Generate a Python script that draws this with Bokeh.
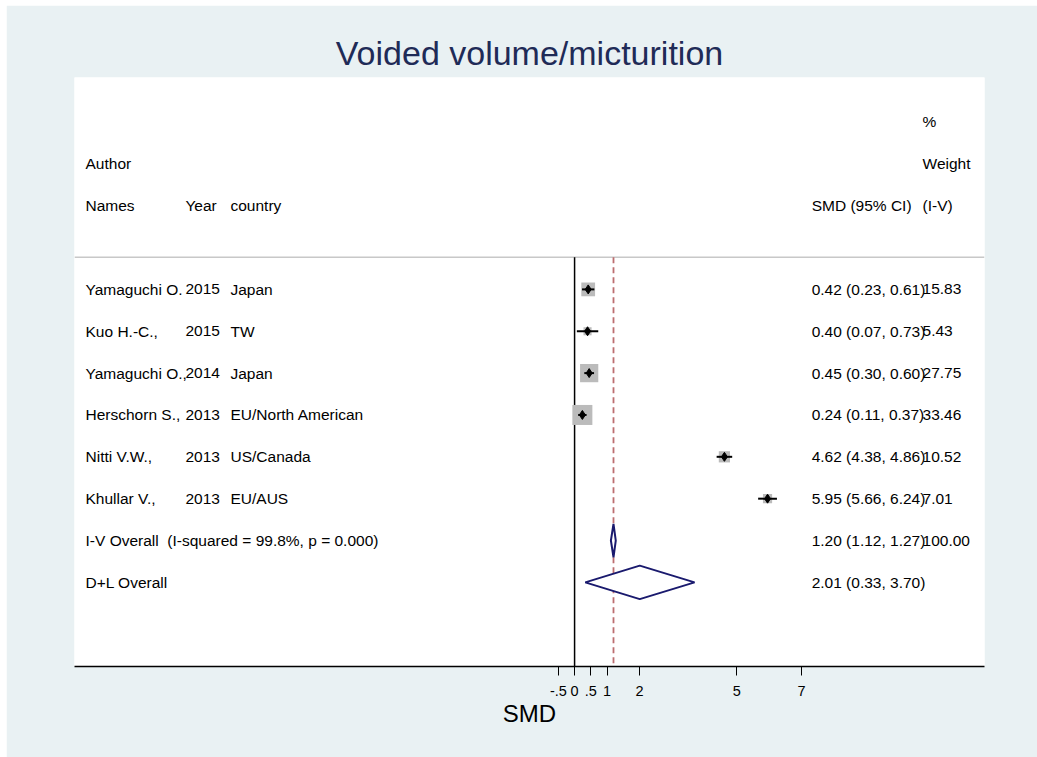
import numpy as np
from bokeh.plotting import figure
from bokeh.models import Range1d, FixedTicker, ColumnDataSource
from bokeh.core.properties import value
from bokeh.embed import file_html
from bokeh.resources import INLINE

# ---- study data -------------------------------------------------------
authors = ["Yamaguchi O.", "Kuo H.-C.,", "Yamaguchi O.,", "Herschorn S.,", "Nitti V.W.,", "Khullar V.,"]
years = ["2015", "2015", "2014", "2013", "2013", "2013"]
countries = ["Japan", "TW", "Japan", "EU/North American", "US/Canada", "EU/AUS"]
smd = [0.42, 0.40, 0.45, 0.24, 4.62, 5.95]
ci_low = [0.23, 0.07, 0.30, 0.11, 4.38, 5.66]
ci_high = [0.61, 0.73, 0.60, 0.37, 4.86, 6.24]
weights = [15.83, 5.43, 27.75, 33.46, 10.52, 7.01]

# ---- pooled estimates -------------------------------------------------
overall_labels = ["I-V Overall\u00a0\u00a0(I-squared = 99.8%, p = 0.000)", "D+L Overall"]
overall_est = [1.20, 2.01]
overall_low = [1.12, 0.33]
overall_high = [1.27, 3.70]
overall_weight = ["100.00", ""]

# ---- axis ticks -------------------------------------------------------
x_ticks = [-0.5, 0, 0.5, 1, 2, 5, 7]
tick_labels = ["-.5", "0", ".5", "1", "2", "5", "7"]

# ---- layout constants (rows counted from the top header line) ---------
FONT = "Liberation Sans"
TXT = "15.5px"
COL_NAME, COL_YEAR, COL_COUNTRY, COL_EST, COL_WT = -15.08, -12.0, -10.61, 7.31, 10.73
Y_TOP, Y_BOTTOM = -1.063, 13.01
SEP_ROW = 3.23
DIAMOND_HALF = 0.40
study_rows = [4 + i for i in range(len(smd))]
overall_rows = [study_rows[-1] + 1 + i for i in range(len(overall_est))]

p = figure(width=1031, height=752, output_backend="svg", toolbar_location=None,
           x_range=Range1d(-15.42, 12.64), y_range=Range1d(Y_BOTTOM, Y_TOP),
           y_axis_location=None, min_border_left=68, min_border_right=53,
           min_border_top=72, min_border_bottom=91)
p.margin = (5, 0, 0, 6)
p.background_fill_color = "white"
p.border_fill_color = "#E9F1F3"
p.outline_line_color = None
p.grid.visible = False

p.title.text = "Voided volume/micturition"
p.title.align = "center"
p.title.text_font = FONT
p.title.text_font_size = "34px"
p.title.text_font_style = "normal"
p.title.text_color = "#1f2b57"
p.title.standoff = 12

ax = p.xaxis[0]
ax.ticker = FixedTicker(ticks=x_ticks)
ax.major_label_overrides = {t: s for t, s in zip(x_ticks, tick_labels)}
ax.axis_line_width = 1.5
ax.axis_line_color = "black"
ax.major_tick_out = 9
ax.major_tick_in = 0
ax.major_tick_line_color = "black"
ax.minor_tick_line_color = None
ax.major_label_text_font = FONT
ax.major_label_text_font_size = "14.5px"
ax.major_label_text_color = "black"
ax.major_label_standoff = 10
ax.axis_label = "SMD"
ax.axis_label_text_font = FONT
ax.axis_label_text_font_size = "24px"
ax.axis_label_text_font_style = "normal"
ax.axis_label_text_color = "black"
ax.axis_label_standoff = 1

# header separator, null line and pooled-estimate line
p.segment(x0=[-15.42], y0=[SEP_ROW], x1=[12.64], y1=[SEP_ROW], line_color="#C8C8C8", line_width=1.5)
p.segment(x0=[0], y0=[SEP_ROW], x1=[0], y1=[Y_BOTTOM], line_color="black", line_width=1.5)
p.segment(x0=[overall_est[0]], y0=[SEP_ROW], x1=[overall_est[0]], y1=[Y_BOTTOM],
          line_color="#BC6E70", line_width=1.8, line_dash="6 4")

# study boxes, CIs and point estimates
src = ColumnDataSource(dict(
    y=study_rows, est=smd, lo=ci_low, hi=ci_high,
    box=[3.46 * np.sqrt(w) for w in weights],
))
p.scatter(x="est", y="y", size="box", marker="square", source=src,
          fill_color="#BBBBBB", line_color=None)
p.segment(x0="lo", y0="y", x1="hi", y1="y", source=src, line_color="black", line_width=2)
p.scatter(x="est", y="y", size=9, marker="diamond", source=src,
          fill_color="black", line_color="black")

# pooled diamonds
xs = [[lo, e, hi, e] for lo, e, hi in zip(overall_low, overall_est, overall_high)]
ys = [[r, r - DIAMOND_HALF, r, r + DIAMOND_HALF] for r in overall_rows]
p.patches(xs=xs, ys=ys, fill_color="white", line_color="#1a1a6e", line_width=2)

# text columns
def add_text(x, y, labels):
    p.text(x=[x] * len(labels), y=y, text=labels, text_font=value(FONT),
           text_font_size=TXT, text_color="black",
           text_baseline="middle", text_align="left")

add_text(COL_WT, [0], ["%"])
add_text(COL_NAME, [1], ["Author"])
add_text(COL_WT, [1], ["Weight"])
add_text(COL_NAME, [2], ["Names"])
add_text(COL_YEAR, [2], ["Year"])
add_text(COL_COUNTRY, [2], ["country"])
add_text(COL_EST, [2], ["SMD (95% CI)"])
add_text(COL_WT, [2], ["(I-V)"])

add_text(COL_NAME, study_rows, authors)
add_text(COL_YEAR, study_rows, years)
add_text(COL_COUNTRY, study_rows, countries)
add_text(COL_EST, study_rows,
         [f"{e:.2f} ({l:.2f}, {h:.2f})" for e, l, h in zip(smd, ci_low, ci_high)])
add_text(COL_WT, study_rows, [f"{w:.2f}" for w in weights])

add_text(COL_NAME, overall_rows, overall_labels)
add_text(COL_EST, overall_rows,
         [f"{e:.2f} ({l:.2f}, {h:.2f})" for e, l, h in zip(overall_est, overall_low, overall_high)])
add_text(COL_WT, overall_rows, overall_weight)

open("out.html", "w").write(file_html(p, INLINE))
